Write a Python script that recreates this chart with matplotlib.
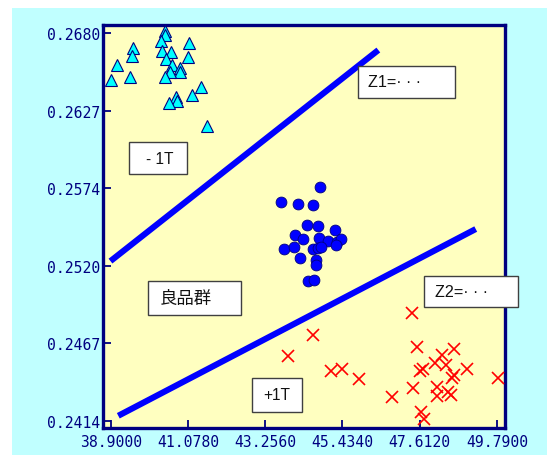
import matplotlib
matplotlib.use("Agg")
import matplotlib.pyplot as plt
from matplotlib.patches import Rectangle
import numpy as np

# ---- data -------------------------------------------------------------
# class "-1T" (upper-left group)
tri_x = [40.431, 40.431, 40.318, 41.108, 39.520, 39.492, 40.338, 40.600,
         41.079, 40.451, 39.086, 40.637, 40.854, 40.840, 40.572, 38.906,
         39.444, 40.431, 41.432, 41.184, 40.733, 40.783, 40.530, 41.615]
tri_y = [0.26813, 0.26790, 0.26749, 0.26733, 0.26698, 0.26647, 0.26680, 0.26671,
         0.26635, 0.26623, 0.26582, 0.26582, 0.26565, 0.26536, 0.26534, 0.26479,
         0.26501, 0.26501, 0.26434, 0.26378, 0.26366, 0.26335, 0.26321, 0.26166]

# good group (centre)
dot_x = [44.793, 43.701, 44.181, 44.604, 44.434, 44.753, 45.224, 44.096,
         44.322, 44.781, 45.035, 45.272, 45.385, 43.778, 44.060, 44.595,
         44.736, 44.821, 44.246, 44.680, 44.680, 44.454, 44.640, 45.252]
dot_y = [0.25742, 0.25643, 0.25628, 0.25621, 0.25485, 0.25479, 0.25449, 0.25417,
         0.25387, 0.25396, 0.25374, 0.25365, 0.25385, 0.25319, 0.25334, 0.25319,
         0.25326, 0.25332, 0.25257, 0.25245, 0.25211, 0.25097, 0.25108, 0.25346]

# class "+1T" (lower-right group)
cross_x = [44.590, 43.907, 45.097, 45.421, 45.886, 46.831, 47.386, 47.527,
           48.249, 48.570, 48.029, 48.353, 47.691, 47.606, 48.937, 48.570,
           48.508, 49.811, 47.415, 48.105, 48.105, 48.396, 48.480, 47.643,
           47.739]
cross_y = [0.24727, 0.24584, 0.24478, 0.24495, 0.24426, 0.24304, 0.24878, 0.24648,
           0.24594, 0.24629, 0.24536, 0.24520, 0.24495, 0.24483, 0.24497, 0.24452,
           0.24430, 0.24435, 0.24363, 0.24369, 0.24312, 0.24335, 0.24316, 0.24203,
           0.24150]

# discriminant boundaries Z1 and Z2 (end points)
z1_x = [38.894, 46.445]
z1_y = [0.25236, 0.26685]
z2_x = [39.114, 49.191]
z2_y = [0.24174, 0.25456]

x_ticks = [38.9000, 41.0780, 43.2560, 45.4340, 47.6120, 49.7900]
y_ticks = [0.2414, 0.24672, 0.25204, 0.25736, 0.26268, 0.2680]

NAVY = "#000080"
W, H = 547, 456

fig = plt.figure(figsize=(W / 100, H / 100), dpi=100, facecolor="white")

# cyan backdrop
fig.patches.append(Rectangle((12 / W, 0), 1 - 12 / W, 1 - 9 / H,
                             transform=fig.transFigure, facecolor="#C0FFFF",
                             edgecolor="none", zorder=-10))

ax = fig.add_axes([103 / W, 1 - 429 / H, (505 - 103) / W, (429 - 26) / H])
ax.set_facecolor("#FFFFC0")

ax.plot(z1_x, z1_y, color="#0000FF", lw=4.4, solid_capstyle="butt", zorder=2)
ax.plot(z2_x, z2_y, color="#0000FF", lw=4.4, solid_capstyle="butt", zorder=2)

ax.plot(tri_x, tri_y, ls="none", marker="^", ms=8.5, mfc="#00FFFF",
        mec=NAVY, mew=0.8, zorder=3)
ax.plot(dot_x, dot_y, ls="none", marker="o", ms=7.8, mfc="#0000FF",
        mec=NAVY, mew=0.6, zorder=3)
ax.plot(cross_x, cross_y, ls="none", marker="x", ms=8.5, mec="#FF0000",
        mew=1.2, zorder=3)

ax.set_xlim(38.683, 50.016)
ax.set_ylim(0.2409, 0.26857)
ax.set_xticks(x_ticks)
ax.set_yticks(y_ticks)
ax.set_xticklabels([f"{v:.4f}" for v in x_ticks])
ax.set_yticklabels([f"{v:.4f}" for v in y_ticks])
ax.tick_params(direction="in", length=6, width=1.3, color=NAVY,
               labelcolor=NAVY, labelsize=10.6, pad=2)
ax.tick_params(axis="x", pad=4)
for lab in ax.get_xticklabels() + ax.get_yticklabels():
    lab.set_family("DejaVu Sans Mono")

for s in ax.spines.values():
    s.set_color(NAVY)
    s.set_linewidth(2.4)


def px_box(x0, y0, x1, y1, text, tx, size=11.2):
    fig.patches.append(Rectangle((x0 / W, 1 - y1 / H), (x1 - x0) / W,
                                 (y1 - y0) / H, transform=fig.transFigure,
                                 facecolor="white", edgecolor="#404040",
                                 lw=1.0, zorder=5))
    fig.text(tx / W, 1 - (y0 + y1) / 2 / H, text, ha="left", va="center",
             fontsize=size, color="#111111", zorder=6,
             family=["Liberation Sans", "Noto Sans CJK JP"])


px_box(129.3, 143.3, 187.3, 175.0, "- 1T", 146)
px_box(357.7, 66.7, 455.0, 99.0, "Z1=\u00b7 \u00b7 \u00b7", 368, 11.6)
px_box(147.7, 281.7, 241.3, 315.7, "良品群", 160, 12.5)
px_box(424.0, 276.7, 518.3, 308.3, "Z2=\u00b7 \u00b7 \u00b7", 435, 11.6)
px_box(252.3, 379.3, 301.7, 412.7, "+1T", 263)

fig.savefig("out.png", dpi=100, facecolor="white")
